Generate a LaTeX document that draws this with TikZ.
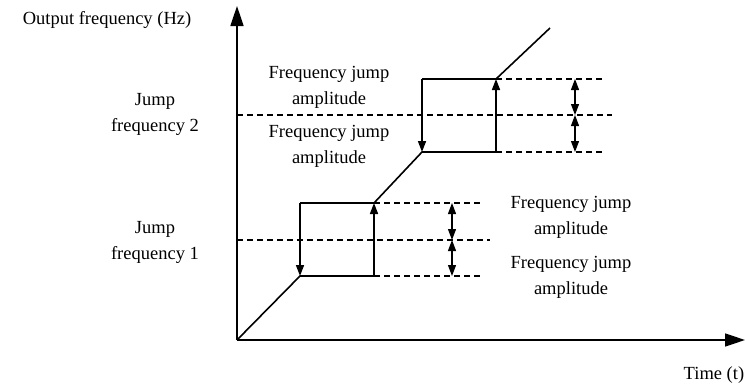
\documentclass[tikz,border=0pt]{standalone}
\usepackage{fontspec}
\setmainfont{Liberation Serif}
\usepackage{tikz}
\usetikzlibrary{arrows.meta}

\begin{document}
\begin{tikzpicture}[x=1pt,y=-1pt,line width=1.6pt,
  lbl/.style={font=\fontsize{18.5}{26}\selectfont,align=center,inner sep=0pt},
  guide/.style={line width=1.2pt,dash pattern=on 6pt off 4pt},
  jump/.style={-{Triangle[length=11pt,width=8pt]}},
  span/.style={{Triangle[length=11pt,width=8pt]}-{Triangle[length=11pt,width=8pt]},line width=1.2pt},
  axis/.style={-{Triangle[length=20pt,width=13pt]}}]
\useasboundingbox (0,0) rectangle (745,388);
% Axes
\coordinate (O) at (237,340);
\coordinate (ytop) at (237,6);
\coordinate (xend) at (745,340);
\draw[axis] (O) -- (ytop);
\draw[axis] (O) -- (xend);
\node[lbl] (ylab) at (107,20) {Output frequency (Hz)};
\node[lbl,anchor=east] (xlab) at (745,375) {Time (t)};
% Lower jump band
\coordinate (a1) at (300,276);
\coordinate (b1) at (374,276);
\coordinate (c1) at (374,203);
\coordinate (d1) at (300,203);
\coordinate (m1) at (237,240);
% Upper jump band
\coordinate (a2) at (422,152);
\coordinate (b2) at (496,152);
\coordinate (c2) at (496,79);
\coordinate (d2) at (422,79);
\coordinate (m2) at (237,115);
\coordinate (end) at (550,28);
% Output curve
\draw (O) -- (a1) -- (b1);
\draw[jump] (b1) -- (c1);
\draw (c1) -- (d1);
\draw[jump] (d1) -- (a1);
\draw (c1) -- (a2) -- (b2);
\draw[jump] (b2) -- (c2);
\draw (c2) -- (d2);
\draw[jump] (d2) -- (a2);
\draw (c2) -- (end);
% Dashed levels
\draw[guide] (m1) -- (490,240);
\draw[guide] (c1) -- (480,203);
\draw[guide] (b1) -- (480,276);
\draw[guide] (m2) -- (612,115);
\draw[guide] (c2) -- (602,79);
\draw[guide] (b2) -- (602,152);
% Amplitude spans
\draw[span] (452,203) -- (452,240);
\draw[span] (452,240) -- (452,276);
\draw[span] (575,79) -- (575,115);
\draw[span] (575,115) -- (575,152);
% Labels
\node[lbl] (jf2) at (155,114) {Jump\\frequency 2};
\node[lbl] (jf1) at (155,242) {Jump\\frequency 1};
\node[lbl] (amp2a) at (329,87) {Frequency jump\\amplitude};
\node[lbl] (amp2b) at (329,146) {Frequency jump\\amplitude};
\node[lbl] (amp1a) at (571,217) {Frequency jump\\amplitude};
\node[lbl] (amp1b) at (571,277) {Frequency jump\\amplitude};
\end{tikzpicture}
\end{document}
